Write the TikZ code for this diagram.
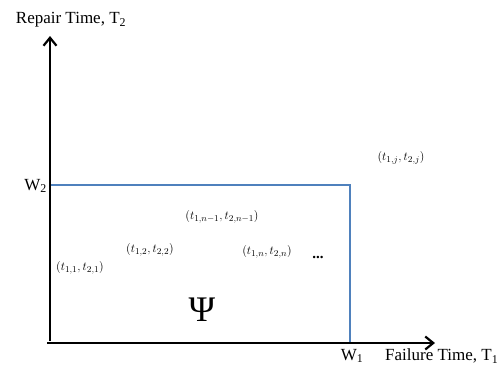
\documentclass[tikz,border=0pt]{standalone}
\usepackage{fontspec}
\setmainfont{Liberation Serif}
\usetikzlibrary{arrows.meta}
\definecolor{regionblue}{RGB}{79,129,189}
\begin{document}
\begin{tikzpicture}[
	x=1pt, y=-1pt,
	% Define the styles for the labels and lines
	axislabel/.style={inner sep=0pt, font=\fontsize{17}{20}\selectfont},
	pointlabel/.style={inner sep=0pt, font=\fontsize{13}{15}\selectfont},
	axisline/.style={line width=2.6pt, -{Straight Barb[length=8pt,width=13pt,line width=2.2pt]}},
	regionline/.style={line width=2.4pt, regionblue}
	]
	\useasboundingbox (0,0) rectangle (499,368);
	
	% --- CORNERS ---
	\coordinate (O) at (50,343);
	\coordinate (xend) at (435,343);
	\coordinate (yend) at (50,36);
	\coordinate (w2pt) at (50,185);
	\coordinate (corner) at (350,185);
	\coordinate (w1pt) at (350,343);
	
	% --- REGION ---
	\draw[regionline] (w2pt) -- (corner) -- (w1pt);
	
	% --- AXES ---
	\draw[axisline] ([xshift=-3pt]O) -- (xend);
	\draw[axisline] ([yshift=2pt]O) -- (yend);
	
	% --- LABELS ---
	\node[axislabel] (ytitle) at (71,20) {Repair Time, T\textsubscript{2}};
	\node[axislabel, anchor=west] (xtitle) at (385,356) {Failure Time, T\textsubscript{1}};
	\node[axislabel, anchor=east] (w2) at (47,186) {W\textsubscript{2}};
	\node[axislabel] (w1) at (352,356) {W\textsubscript{1}};
	\node[inner sep=0pt, font=\fontsize{36}{40}\selectfont] (psi) at (202,310) {Ψ};
	
	% --- POINTS ---
	\node[pointlabel] (p1) at (80,268) {$(t_{1,1},t_{2,1})$};
	\node[pointlabel] (p2) at (150,250) {$(t_{1,2},t_{2,2})$};
	\node[pointlabel] (p3) at (222,217) {$(t_{1,n-1},t_{2,n-1})$};
	\node[pointlabel] (p4) at (267,252) {$(t_{1,n},t_{2,n})$};
	\node[pointlabel, font=\fontsize{15}{15}\selectfont\bfseries] (dots) at (318,257) {...};
	\node[pointlabel] (pj) at (401,158) {$(t_{1,j},t_{2,j})$};
	
\end{tikzpicture}
\end{document}
